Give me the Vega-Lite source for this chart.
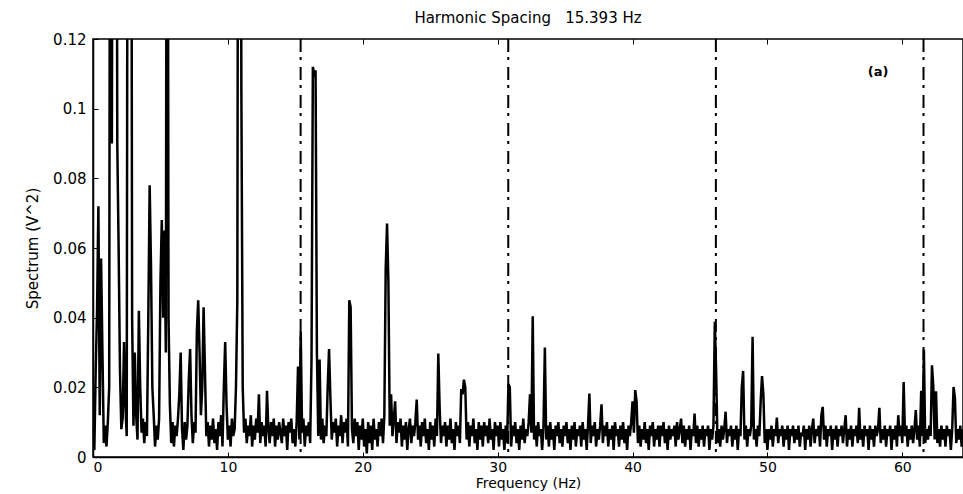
{
"$schema": "https://vega.github.io/schema/vega-lite/v6.json",
"autosize": {"type": "none"},
"padding": {"left": 93, "top": 39, "right": 0, "bottom": 37},
"width": 870,
"height": 418,
"background": "white",
"title": {"text": "Harmonic Spacing\u00a0\u00a0\u00a015.393 Hz", "font": "DejaVu Sans", "fontSize": 15, "fontWeight": "normal", "color": "black", "anchor": "middle", "offset": 6},
"config": {"view": {"stroke": "black", "strokeWidth": 1.5}, "axis": {"grid": false, "domainColor": "black", "tickColor": "black", "labelColor": "black", "titleColor": "black", "labelFont": "DejaVu Sans", "titleFont": "DejaVu Sans", "titleFontWeight": "normal"}},
"data": {"values": [
{"f":0,"s":0.005},{"f":0.1,"s":0.002},{"f":0.2,"s":0.025},{"f":0.3,"s":0.042},{"f":0.4,"s":0.072},{"f":0.5,"s":0.012},{"f":0.6,"s":0.057},{"f":0.7,"s":0.03},{"f":0.8,"s":0.004},{"f":0.9,"s":0.009},
{"f":1,"s":0.003},{"f":1.1,"s":0.01},{"f":1.2,"s":0.02},{"f":1.3,"s":0.3},{"f":1.4,"s":0.09},{"f":1.5,"s":0.3},{"f":1.6,"s":0.2},{"f":1.7,"s":0.3},{"f":1.8,"s":0.09},{"f":1.9,"s":0.06},
{"f":2,"s":0.025},{"f":2.1,"s":0.008},{"f":2.2,"s":0.011},{"f":2.3,"s":0.033},{"f":2.4,"s":0.015},{"f":2.5,"s":0.006},{"f":2.6,"s":0.3},{"f":2.7,"s":0.3},{"f":2.8,"s":0.3},{"f":2.9,"s":0.04},
{"f":3,"s":0.009},{"f":3.1,"s":0.03},{"f":3.2,"s":0.012},{"f":3.3,"s":0.005},{"f":3.4,"s":0.042},{"f":3.5,"s":0.02},{"f":3.6,"s":0.007},{"f":3.7,"s":0.011},{"f":3.8,"s":0.004},{"f":3.9,"s":0.01},
{"f":4,"s":0.006},{"f":4.1,"s":0.04},{"f":4.2,"s":0.078},{"f":4.3,"s":0.055},{"f":4.4,"s":0.02},{"f":4.5,"s":0.012},{"f":4.6,"s":0.003},{"f":4.7,"s":0.009},{"f":4.8,"s":0.005},{"f":4.9,"s":0.011},
{"f":5,"s":0.05},{"f":5.1,"s":0.068},{"f":5.2,"s":0.04},{"f":5.3,"s":0.065},{"f":5.4,"s":0.03},{"f":5.5,"s":0.3},{"f":5.6,"s":0.04},{"f":5.7,"s":0.015},{"f":5.8,"s":0.004},{"f":5.9,"s":0.01},
{"f":6,"s":0.003},{"f":6.1,"s":0.009},{"f":6.2,"s":0.006},{"f":6.3,"s":0.011},{"f":6.4,"s":0.018},{"f":6.5,"s":0.03},{"f":6.6,"s":0.008},{"f":6.7,"s":0.002},{"f":6.8,"s":0.01},{"f":6.9,"s":0.005},
{"f":7,"s":0.009},{"f":7.1,"s":0.022},{"f":7.2,"s":0.031},{"f":7.3,"s":0.012},{"f":7.4,"s":0.004},{"f":7.5,"s":0.01},{"f":7.6,"s":0.007},{"f":7.7,"s":0.036},{"f":7.8,"s":0.045},{"f":7.9,"s":0.03},
{"f":8,"s":0.012},{"f":8.1,"s":0.02},{"f":8.2,"s":0.043},{"f":8.3,"s":0.025},{"f":8.4,"s":0.006},{"f":8.5,"s":0.01},{"f":8.6,"s":0.003},{"f":8.7,"s":0.009},{"f":8.8,"s":0.005},{"f":8.9,"s":0.011},
{"f":9,"s":0.004},{"f":9.1,"s":0.008},{"f":9.2,"s":0.002},{"f":9.3,"s":0.01},{"f":9.4,"s":0.006},{"f":9.5,"s":0.012},{"f":9.6,"s":0.003},{"f":9.7,"s":0.02},{"f":9.8,"s":0.033},{"f":9.9,"s":0.015},
{"f":10,"s":0.005},{"f":10.1,"s":0.009},{"f":10.2,"s":0.003},{"f":10.3,"s":0.011},{"f":10.4,"s":0.006},{"f":10.5,"s":0.008},{"f":10.6,"s":0.02},{"f":10.7,"s":0.045},{"f":10.8,"s":0.3},{"f":10.9,"s":0.3},
{"f":11,"s":0.105},{"f":11.1,"s":0.02},{"f":11.2,"s":0.007},{"f":11.3,"s":0.011},{"f":11.4,"s":0.004},{"f":11.5,"s":0.009},{"f":11.6,"s":0.006},{"f":11.7,"s":0.012},{"f":11.8,"s":0.003},{"f":11.9,"s":0.009},
{"f":12,"s":0.005},{"f":12.1,"s":0.011},{"f":12.2,"s":0.007},{"f":12.3,"s":0.018},{"f":12.4,"s":0.004},{"f":12.5,"s":0.01},{"f":12.6,"s":0.006},{"f":12.7,"s":0.009},{"f":12.8,"s":0.003},{"f":12.9,"s":0.019},
{"f":13,"s":0.008},{"f":13.1,"s":0.004},{"f":13.2,"s":0.01},{"f":13.3,"s":0.006},{"f":13.4,"s":0.011},{"f":13.5,"s":0.003},{"f":13.6,"s":0.009},{"f":13.7,"s":0.005},{"f":13.8,"s":0.01},{"f":13.9,"s":0.007},
{"f":14,"s":0.004},{"f":14.1,"s":0.011},{"f":14.2,"s":0.006},{"f":14.3,"s":0.009},{"f":14.4,"s":0.002},{"f":14.5,"s":0.01},{"f":14.6,"s":0.007},{"f":14.7,"s":0.011},{"f":14.8,"s":0.004},{"f":14.9,"s":0.008},
{"f":15,"s":0.003},{"f":15.1,"s":0.01},{"f":15.2,"s":0.026},{"f":15.3,"s":0.005},{"f":15.4,"s":0.036},{"f":15.5,"s":0.007},{"f":15.6,"s":0.011},{"f":15.7,"s":0.003},{"f":15.8,"s":0.009},{"f":15.9,"s":0.006},
{"f":16,"s":0.01},{"f":16.1,"s":0.004},{"f":16.2,"s":0.028},{"f":16.3,"s":0.112},{"f":16.4,"s":0.11},{"f":16.5,"s":0.111},{"f":16.6,"s":0.03},{"f":16.7,"s":0.006},{"f":16.8,"s":0.028},{"f":16.9,"s":0.005},
{"f":17,"s":0.011},{"f":17.1,"s":0.004},{"f":17.2,"s":0.009},{"f":17.3,"s":0.006},{"f":17.4,"s":0.02},{"f":17.5,"s":0.031},{"f":17.6,"s":0.017},{"f":17.7,"s":0.005},{"f":17.8,"s":0.01},{"f":17.9,"s":0.007},
{"f":18,"s":0.011},{"f":18.1,"s":0.003},{"f":18.2,"s":0.009},{"f":18.3,"s":0.006},{"f":18.4,"s":0.012},{"f":18.5,"s":0.004},{"f":18.6,"s":0.01},{"f":18.7,"s":0.007},{"f":18.8,"s":0.011},{"f":18.9,"s":0.003},
{"f":19,"s":0.045},{"f":19.1,"s":0.043},{"f":19.2,"s":0.008},{"f":19.3,"s":0.004},{"f":19.4,"s":0.011},{"f":19.5,"s":0.006},{"f":19.6,"s":0.01},{"f":19.7,"s":0.002},{"f":19.8,"s":0.009},{"f":19.9,"s":0.005},
{"f":20,"s":0.011},{"f":20.1,"s":0.003},{"f":20.2,"s":0.008},{"f":20.3,"s":0.001},{"f":20.4,"s":0.01},{"f":20.5,"s":0.004},{"f":20.6,"s":0.009},{"f":20.7,"s":0.002},{"f":20.8,"s":0.011},{"f":20.9,"s":0.005},
{"f":21,"s":0.008},{"f":21.1,"s":0.003},{"f":21.2,"s":0.01},{"f":21.3,"s":0.006},{"f":21.4,"s":0.011},{"f":21.5,"s":0.004},{"f":21.6,"s":0.012},{"f":21.7,"s":0.054},{"f":21.8,"s":0.067},{"f":21.9,"s":0.05},
{"f":22,"s":0.009},{"f":22.1,"s":0.018},{"f":22.2,"s":0.006},{"f":22.3,"s":0.011},{"f":22.4,"s":0.016},{"f":22.5,"s":0.004},{"f":22.6,"s":0.01},{"f":22.7,"s":0.007},{"f":22.8,"s":0.011},{"f":22.9,"s":0.003},
{"f":23,"s":0.009},{"f":23.1,"s":0.005},{"f":23.2,"s":0.01},{"f":23.3,"s":0.002},{"f":23.4,"s":0.008},{"f":23.5,"s":0.011},{"f":23.6,"s":0.004},{"f":23.7,"s":0.009},{"f":23.8,"s":0.006},{"f":23.9,"s":0.01},
{"f":24,"s":0.0165},{"f":24.1,"s":0.005},{"f":24.2,"s":0.009},{"f":24.3,"s":0.003},{"f":24.4,"s":0.01},{"f":24.5,"s":0.006},{"f":24.6,"s":0.011},{"f":24.7,"s":0.004},{"f":24.8,"s":0.008},{"f":24.9,"s":0.002},
{"f":25,"s":0.01},{"f":25.1,"s":0.005},{"f":25.2,"s":0.009},{"f":25.3,"s":0.003},{"f":25.4,"s":0.011},{"f":25.5,"s":0.006},{"f":25.6,"s":0.0297},{"f":25.7,"s":0.014},{"f":25.8,"s":0.004},{"f":25.9,"s":0.009},
{"f":26,"s":0.006},{"f":26.1,"s":0.01},{"f":26.2,"s":0.003},{"f":26.3,"s":0.009},{"f":26.4,"s":0.005},{"f":26.5,"s":0.011},{"f":26.6,"s":0.004},{"f":26.7,"s":0.008},{"f":26.8,"s":0.002},{"f":26.9,"s":0.01},
{"f":27,"s":0.006},{"f":27.1,"s":0.009},{"f":27.2,"s":0.004},{"f":27.3,"s":0.0195},{"f":27.4,"s":0.018},{"f":27.5,"s":0.0222},{"f":27.6,"s":0.02},{"f":27.7,"s":0.005},{"f":27.8,"s":0.01},{"f":27.9,"s":0.003},
{"f":28,"s":0.009},{"f":28.1,"s":0.006},{"f":28.2,"s":0.011},{"f":28.3,"s":0.004},{"f":28.4,"s":0.008},{"f":28.5,"s":0.002},{"f":28.6,"s":0.01},{"f":28.7,"s":0.005},{"f":28.8,"s":0.009},{"f":28.9,"s":0.003},
{"f":29,"s":0.01},{"f":29.1,"s":0.006},{"f":29.2,"s":0.009},{"f":29.3,"s":0.004},{"f":29.4,"s":0.011},{"f":29.5,"s":0.005},{"f":29.6,"s":0.008},{"f":29.7,"s":0.002},{"f":29.8,"s":0.01},{"f":29.9,"s":0.006},
{"f":30,"s":0.009},{"f":30.1,"s":0.003},{"f":30.2,"s":0.01},{"f":30.3,"s":0.005},{"f":30.4,"s":0.008},{"f":30.5,"s":0.002},{"f":30.6,"s":0.009},{"f":30.7,"s":0.004},{"f":30.8,"s":0.021},{"f":30.9,"s":0.02},
{"f":31,"s":0.003},{"f":31.1,"s":0.009},{"f":31.2,"s":0.006},{"f":31.3,"s":0.01},{"f":31.4,"s":0.004},{"f":31.5,"s":0.008},{"f":31.6,"s":0.002},{"f":31.7,"s":0.009},{"f":31.8,"s":0.005},{"f":31.9,"s":0.011},
{"f":32,"s":0.004},{"f":32.1,"s":0.008},{"f":32.2,"s":0.006},{"f":32.3,"s":0.01},{"f":32.4,"s":0.018},{"f":32.5,"s":0.007},{"f":32.6,"s":0.0404},{"f":32.7,"s":0.005},{"f":32.8,"s":0.009},{"f":32.9,"s":0.003},
{"f":33,"s":0.01},{"f":33.1,"s":0.006},{"f":33.2,"s":0.008},{"f":33.3,"s":0.002},{"f":33.4,"s":0.009},{"f":33.5,"s":0.0314},{"f":33.6,"s":0.005},{"f":33.7,"s":0.009},{"f":33.8,"s":0.003},{"f":33.9,"s":0.01},
{"f":34,"s":0.005},{"f":34.1,"s":0.008},{"f":34.2,"s":0.002},{"f":34.3,"s":0.009},{"f":34.4,"s":0.006},{"f":34.5,"s":0.01},{"f":34.6,"s":0.004},{"f":34.7,"s":0.008},{"f":34.8,"s":0.003},{"f":34.9,"s":0.009},
{"f":35,"s":0.006},{"f":35.1,"s":0.01},{"f":35.2,"s":0.004},{"f":35.3,"s":0.008},{"f":35.4,"s":0.002},{"f":35.5,"s":0.009},{"f":35.6,"s":0.005},{"f":35.7,"s":0.01},{"f":35.8,"s":0.003},{"f":35.9,"s":0.008},
{"f":36,"s":0.006},{"f":36.1,"s":0.009},{"f":36.2,"s":0.003},{"f":36.3,"s":0.01},{"f":36.4,"s":0.005},{"f":36.5,"s":0.008},{"f":36.6,"s":0.002},{"f":36.7,"s":0.009},{"f":36.8,"s":0.0182},{"f":36.9,"s":0.004},
{"f":37,"s":0.009},{"f":37.1,"s":0.006},{"f":37.2,"s":0.01},{"f":37.3,"s":0.003},{"f":37.4,"s":0.008},{"f":37.5,"s":0.005},{"f":37.6,"s":0.009},{"f":37.7,"s":0.0151},{"f":37.8,"s":0.004},{"f":37.9,"s":0.009},
{"f":38,"s":0.006},{"f":38.1,"s":0.01},{"f":38.2,"s":0.003},{"f":38.3,"s":0.008},{"f":38.4,"s":0.005},{"f":38.5,"s":0.009},{"f":38.6,"s":0.002},{"f":38.7,"s":0.01},{"f":38.8,"s":0.006},{"f":38.9,"s":0.008},
{"f":39,"s":0.003},{"f":39.1,"s":0.009},{"f":39.2,"s":0.005},{"f":39.3,"s":0.01},{"f":39.4,"s":0.004},{"f":39.5,"s":0.008},{"f":39.6,"s":0.002},{"f":39.7,"s":0.009},{"f":39.8,"s":0.006},{"f":39.9,"s":0.01},
{"f":40,"s":0.016},{"f":40.1,"s":0.007},{"f":40.2,"s":0.0192},{"f":40.3,"s":0.016},{"f":40.4,"s":0.004},{"f":40.5,"s":0.009},{"f":40.6,"s":0.003},{"f":40.7,"s":0.008},{"f":40.8,"s":0.005},{"f":40.9,"s":0.01},
{"f":41,"s":0.004},{"f":41.1,"s":0.008},{"f":41.2,"s":0.002},{"f":41.3,"s":0.009},{"f":41.4,"s":0.006},{"f":41.5,"s":0.01},{"f":41.6,"s":0.003},{"f":41.7,"s":0.008},{"f":41.8,"s":0.005},{"f":41.9,"s":0.009},
{"f":42,"s":0.003},{"f":42.1,"s":0.009},{"f":42.2,"s":0.006},{"f":42.3,"s":0.01},{"f":42.4,"s":0.004},{"f":42.5,"s":0.008},{"f":42.6,"s":0.002},{"f":42.7,"s":0.009},{"f":42.8,"s":0.005},{"f":42.9,"s":0.008},
{"f":43,"s":0.006},{"f":43.1,"s":0.009},{"f":43.2,"s":0.003},{"f":43.3,"s":0.01},{"f":43.4,"s":0.005},{"f":43.5,"s":0.008},{"f":43.6,"s":0.011},{"f":43.7,"s":0.004},{"f":43.8,"s":0.009},{"f":43.9,"s":0.003},
{"f":44,"s":0.008},{"f":44.1,"s":0.005},{"f":44.2,"s":0.009},{"f":44.3,"s":0.002},{"f":44.4,"s":0.008},{"f":44.5,"s":0.006},{"f":44.6,"s":0.0125},{"f":44.7,"s":0.004},{"f":44.8,"s":0.009},{"f":44.9,"s":0.003},
{"f":45,"s":0.008},{"f":45.1,"s":0.005},{"f":45.2,"s":0.009},{"f":45.3,"s":0.003},{"f":45.4,"s":0.008},{"f":45.5,"s":0.006},{"f":45.6,"s":0.009},{"f":45.7,"s":0.002},{"f":45.8,"s":0.008},{"f":45.9,"s":0.005},
{"f":46,"s":0.009},{"f":46.1,"s":0.0388},{"f":46.2,"s":0.024},{"f":46.3,"s":0.004},{"f":46.4,"s":0.008},{"f":46.5,"s":0.003},{"f":46.6,"s":0.009},{"f":46.7,"s":0.005},{"f":46.8,"s":0.008},{"f":46.9,"s":0.013},
{"f":47,"s":0.004},{"f":47.1,"s":0.008},{"f":47.2,"s":0.006},{"f":47.3,"s":0.009},{"f":47.4,"s":0.003},{"f":47.5,"s":0.008},{"f":47.6,"s":0.005},{"f":47.7,"s":0.009},{"f":47.8,"s":0.002},{"f":47.9,"s":0.008},
{"f":48,"s":0.006},{"f":48.1,"s":0.02},{"f":48.2,"s":0.0247},{"f":48.3,"s":0.005},{"f":48.4,"s":0.009},{"f":48.5,"s":0.003},{"f":48.6,"s":0.008},{"f":48.7,"s":0.006},{"f":48.8,"s":0.009},{"f":48.9,"s":0.0345},
{"f":49,"s":0.005},{"f":49.1,"s":0.008},{"f":49.2,"s":0.003},{"f":49.3,"s":0.009},{"f":49.4,"s":0.006},{"f":49.5,"s":0.016},{"f":49.6,"s":0.0232},{"f":49.7,"s":0.018},{"f":49.8,"s":0.004},{"f":49.9,"s":0.008},
{"f":50,"s":0.002},{"f":50.1,"s":0.008},{"f":50.2,"s":0.005},{"f":50.3,"s":0.009},{"f":50.4,"s":0.003},{"f":50.5,"s":0.008},{"f":50.6,"s":0.006},{"f":50.7,"s":0.0113},{"f":50.8,"s":0.004},{"f":50.9,"s":0.008},
{"f":51,"s":0.006},{"f":51.1,"s":0.009},{"f":51.2,"s":0.003},{"f":51.3,"s":0.008},{"f":51.4,"s":0.005},{"f":51.5,"s":0.009},{"f":51.6,"s":0.002},{"f":51.7,"s":0.008},{"f":51.8,"s":0.006},{"f":51.9,"s":0.009},
{"f":52,"s":0.004},{"f":52.1,"s":0.008},{"f":52.2,"s":0.005},{"f":52.3,"s":0.009},{"f":52.4,"s":0.003},{"f":52.5,"s":0.007},{"f":52.6,"s":0.006},{"f":52.7,"s":0.009},{"f":52.8,"s":0.002},{"f":52.9,"s":0.008},
{"f":53,"s":0.005},{"f":53.1,"s":0.009},{"f":53.2,"s":0.003},{"f":53.3,"s":0.008},{"f":53.4,"s":0.011},{"f":53.5,"s":0.004},{"f":53.6,"s":0.008},{"f":53.7,"s":0.006},{"f":53.8,"s":0.009},{"f":53.9,"s":0.003},
{"f":54,"s":0.012},{"f":54.1,"s":0.0144},{"f":54.2,"s":0.005},{"f":54.3,"s":0.009},{"f":54.4,"s":0.003},{"f":54.5,"s":0.008},{"f":54.6,"s":0.006},{"f":54.7,"s":0.009},{"f":54.8,"s":0.002},{"f":54.9,"s":0.008},
{"f":55,"s":0.005},{"f":55.1,"s":0.009},{"f":55.2,"s":0.003},{"f":55.3,"s":0.008},{"f":55.4,"s":0.006},{"f":55.5,"s":0.009},{"f":55.6,"s":0.004},{"f":55.7,"s":0.008},{"f":55.8,"s":0.012},{"f":55.9,"s":0.003},
{"f":56,"s":0.008},{"f":56.1,"s":0.005},{"f":56.2,"s":0.009},{"f":56.3,"s":0.003},{"f":56.4,"s":0.008},{"f":56.5,"s":0.006},{"f":56.6,"s":0.009},{"f":56.7,"s":0.004},{"f":56.8,"s":0.0141},{"f":56.9,"s":0.005},
{"f":57,"s":0.008},{"f":57.1,"s":0.003},{"f":57.2,"s":0.009},{"f":57.3,"s":0.006},{"f":57.4,"s":0.008},{"f":57.5,"s":0.002},{"f":57.6,"s":0.009},{"f":57.7,"s":0.005},{"f":57.8,"s":0.008},{"f":57.9,"s":0.003},
{"f":58,"s":0.009},{"f":58.1,"s":0.006},{"f":58.2,"s":0.008},{"f":58.3,"s":0.0141},{"f":58.4,"s":0.004},{"f":58.5,"s":0.008},{"f":58.6,"s":0.005},{"f":58.7,"s":0.009},{"f":58.8,"s":0.003},{"f":58.9,"s":0.008},
{"f":59,"s":0.006},{"f":59.1,"s":0.009},{"f":59.2,"s":0.002},{"f":59.3,"s":0.008},{"f":59.4,"s":0.005},{"f":59.5,"s":0.009},{"f":59.6,"s":0.003},{"f":59.7,"s":0.012},{"f":59.8,"s":0.006},{"f":59.9,"s":0.009},
{"f":60,"s":0.004},{"f":60.1,"s":0.0215},{"f":60.2,"s":0.006},{"f":60.3,"s":0.009},{"f":60.4,"s":0.003},{"f":60.5,"s":0.008},{"f":60.6,"s":0.005},{"f":60.7,"s":0.009},{"f":60.8,"s":0.004},{"f":60.9,"s":0.008},
{"f":61,"s":0.0135},{"f":61.1,"s":0.005},{"f":61.2,"s":0.009},{"f":61.3,"s":0.003},{"f":61.4,"s":0.019},{"f":61.5,"s":0.006},{"f":61.6,"s":0.0308},{"f":61.7,"s":0.004},{"f":61.8,"s":0.008},{"f":61.9,"s":0.005},
{"f":62,"s":0.009},{"f":62.1,"s":0.006},{"f":62.2,"s":0.0263},{"f":62.3,"s":0.02},{"f":62.4,"s":0.005},{"f":62.5,"s":0.0189},{"f":62.6,"s":0.004},{"f":62.7,"s":0.008},{"f":62.8,"s":0.003},{"f":62.9,"s":0.009},
{"f":63,"s":0.005},{"f":63.1,"s":0.008},{"f":63.2,"s":0.003},{"f":63.3,"s":0.009},{"f":63.4,"s":0.006},{"f":63.5,"s":0.008},{"f":63.6,"s":0.002},{"f":63.7,"s":0.008},{"f":63.8,"s":0.0201},{"f":63.9,"s":0.017},
{"f":64,"s":0.004},{"f":64.1,"s":0.008},{"f":64.2,"s":0.005},{"f":64.3,"s":0.009},{"f":64.4,"s":0.003},{"f":64.5,"s":0.008}
]},
"layer": [
{
"data": {"values": [{"h": 15.393}, {"h": 30.786}, {"h": 46.179}, {"h": 61.572}]},
"mark": {"type": "rule", "color": "black", "strokeWidth": 2, "strokeDash": [13, 5, 3, 7]},
"encoding": {"x": {"field": "h", "type": "quantitative", "scale": {"domain": [0, 64.5], "nice": false, "zero": false},
"axis": {"orient": "top", "values": [0, 10, 20, 30, 40, 50, 60], "labels": false, "domain": false, "tickSize": -5, "title": null}}}
},
{
"mark": {"type": "line", "color": "black", "strokeWidth": 2.5, "clip": true, "interpolate": "linear"},
"encoding": {
"x": {"field": "f", "type": "quantitative", "title": "Frequency (Hz)",
"axis": {"orient": "bottom", "values": [0, 10, 20, 30, 40, 50, 60], "tickSize": -5, "labelPadding": 8, "labelFontSize": 14, "titleFontSize": 14, "titlePadding": 2, "domainWidth": 1.5}},
"y": {"field": "s", "type": "quantitative", "title": "Spectrum (V^2)", "scale": {"domain": [0, 0.12], "nice": false},
"axis": {"values": [0, 0.02, 0.04, 0.06, 0.08, 0.1, 0.12], "format": "~g", "tickSize": -5, "labelPadding": 12, "labelFontSize": 15, "titleFontSize": 15, "titlePadding": 12, "domainWidth": 1.5}}
}
},
{
"data": {"values": [{"f": 58.2, "s": 0.1105, "t": "(a)"}]},
"mark": {"type": "text", "font": "DejaVu Sans", "fontSize": 13, "fontWeight": "bold", "color": "black"},
"encoding": {"x": {"field": "f", "type": "quantitative", "axis": null}, "y": {"field": "s", "type": "quantitative"}, "text": {"field": "t"}}
}
],
"resolve": {"axis": {"x": "independent"}}
}
